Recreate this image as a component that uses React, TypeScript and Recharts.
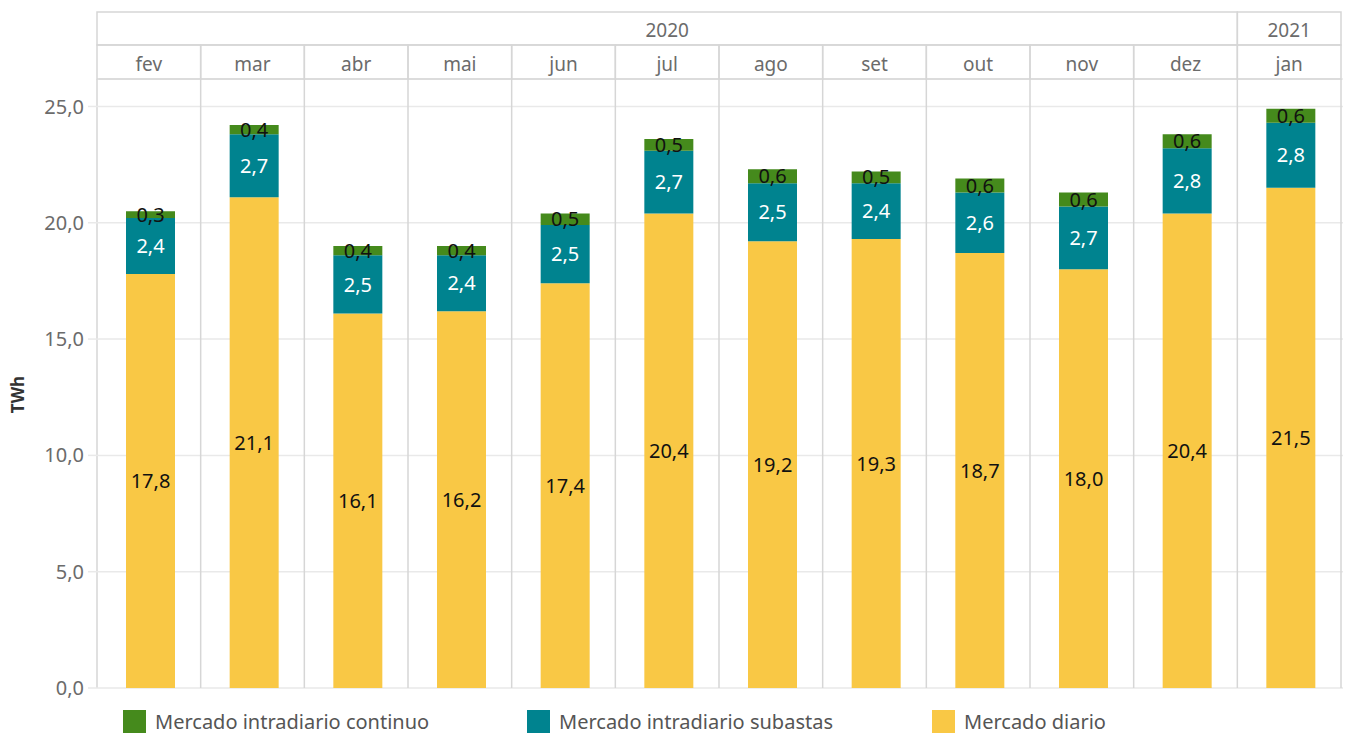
import React from 'react';
import { BarChart, Bar, XAxis, YAxis, CartesianGrid, Legend, LabelList } from 'recharts';

const months = ['fev', 'mar', 'abr', 'mai', 'jun', 'jul', 'ago', 'set', 'out', 'nov', 'dez', 'jan'];
const years = ['2020', '2020', '2020', '2020', '2020', '2020', '2020', '2020', '2020', '2020', '2020', '2021'];
const diario = [17.8, 21.1, 16.1, 16.2, 17.4, 20.4, 19.2, 19.3, 18.7, 18.0, 20.4, 21.5];
const subastas = [2.4, 2.7, 2.5, 2.4, 2.5, 2.7, 2.5, 2.4, 2.6, 2.7, 2.8, 2.8];
const continuo = [0.3, 0.4, 0.4, 0.4, 0.5, 0.5, 0.6, 0.5, 0.6, 0.6, 0.6, 0.6];
const yTicks = [0, 5, 10, 15, 20, 25];

const data = months.map((m, i) => ({
    month: m,
    year: years[i],
    diario: diario[i],
    subastas: subastas[i],
    continuo: continuo[i],
}));

const W = 1351;
const H = 733;
const PLOT_LEFT = 97;
const PLOT_RIGHT = 1341;
// tableau puts the bars a little right of the band centre
const BAR_SHIFT = 2;
const COL_W = (PLOT_RIGHT - PLOT_LEFT) / months.length;
const HEAD_TOP = 12;
const HEAD_MID = 45;
const HEAD_BOTTOM = 79;

const BORDER = '#d6d6d6';
const GRID = '#e9e9e9';
const TEXT_GREY = '#6b6b6b';
const FONT = '"Noto Sans", sans-serif';

const GREEN = '#458a1c';
const TEAL = '#00838f';
const YELLOW = '#f9c845';

const fmt = (v: any) => Number(v).toFixed(1).replace('.', ',');

const MonthTick = (props: any) => {
    const { index, payload } = props;
    const left = PLOT_LEFT + index * COL_W;
    return (
        <g>
            <rect x={left} y={HEAD_MID} width={COL_W} height={HEAD_BOTTOM - HEAD_MID}
                fill="none" stroke={BORDER} strokeWidth={1.5} />
            <text x={left + COL_W / 2} y={71} textAnchor="middle" fill={TEXT_GREY} fontSize={19} fontFamily={FONT}>
                {payload.value}
            </text>
        </g>
    );
};

const YearTick = (props: any) => {
    const { index } = props;
    if (index > 0 && years[index - 1] === years[index]) return <g />;
    let n = 0;
    while (index + n < years.length && years[index + n] === years[index]) n++;
    const left = PLOT_LEFT + index * COL_W;
    return (
        <g>
            <rect x={left} y={HEAD_TOP} width={COL_W * n} height={HEAD_MID - HEAD_TOP}
                fill="none" stroke={BORDER} strokeWidth={1.5} />
            <text x={left + (COL_W * n) / 2} y={37} textAnchor="middle" fill={TEXT_GREY} fontSize={19} fontFamily={FONT}>
                {years[index]}
            </text>
        </g>
    );
};

const legendItems = [
    { name: 'Mercado intradiario continuo', color: GREEN, left: 123 },
    { name: 'Mercado intradiario subastas', color: TEAL, left: 527 },
    { name: 'Mercado diario', color: YELLOW, left: 932 },
];

const LegendContent = () => (
    <div style={{ position: 'relative', width: W, height: 45 }}>
        {legendItems.map((it) => (
            <div key={it.name} style={{ position: 'absolute', left: it.left, top: 22, display: 'flex', alignItems: 'center' }}>
                <div style={{ width: 23, height: 23, background: it.color }} />
                <span style={{ marginLeft: 9, fontFamily: FONT, fontSize: 20, color: '#555', lineHeight: '23px' }}>{it.name}</span>
            </div>
        ))}
    </div>
);

const App: React.FC = () => {
    return (
        <div style={{ position: 'absolute', left: 0, top: 0, width: W, height: H, background: '#fff' }}>
            <BarChart width={W} height={H} data={data} barSize={49}
                margin={{ top: HEAD_TOP, right: W - PLOT_RIGHT - BAR_SHIFT, left: BAR_SHIFT, bottom: 0 }}>
                <CartesianGrid vertical={false} stroke={GRID} strokeWidth={1.5} />
                <CartesianGrid horizontal={false} stroke={BORDER} strokeWidth={1.5}
                    verticalCoordinatesGenerator={() =>
                        Array.from({ length: months.length + 1 }, (_, i) => PLOT_LEFT + i * COL_W)} />
                <XAxis xAxisId={0} dataKey="month" orientation="bottom" hide />
                <XAxis xAxisId="m" dataKey="month" orientation="top" height={HEAD_BOTTOM - HEAD_MID}
                    axisLine={false} tickLine={false} tickSize={0} tickMargin={0} tick={<MonthTick />} interval={0} />
                <XAxis xAxisId="y" dataKey="month" orientation="top" height={HEAD_MID - HEAD_TOP}
                    axisLine={false} tickLine={false} tickSize={0} tickMargin={0} tick={<YearTick />} interval={0} />
                <YAxis width={PLOT_LEFT} domain={[0, 26.18]} ticks={yTicks} allowDataOverflow
                    axisLine={false} tickLine={{ stroke: GRID, strokeWidth: 1.5 }} tickSize={11} tickMargin={4}
                    tickFormatter={fmt}
                    tick={{ fill: TEXT_GREY, fontSize: 20, fontFamily: FONT }}
                    label={{
                        content: (p: any) => {
                            const vb = p.viewBox || { y: 79, height: 609 };
                            const cy = vb.y + vb.height / 2 + 11;
                            return (
                                <text x={17} y={cy} transform={`rotate(-90, 17, ${cy})`} textAnchor="middle"
                                    dominantBaseline="central" fontFamily={FONT} fontSize={17} fontWeight="bold" fill="#333">
                                    TWh
                                </text>
                            );
                        },
                    }} />
                <Legend verticalAlign="bottom" height={45} content={<LegendContent />}
                    wrapperStyle={{ left: 0, bottom: 0, width: W, height: 45 }} />
                <Bar dataKey="diario" stackId="a" fill={YELLOW} isAnimationActive={false}>
                    <LabelList dataKey="diario" position="center" formatter={fmt}
                        fill="#111" fontSize={20} fontFamily={FONT} />
                </Bar>
                <Bar dataKey="subastas" stackId="a" fill={TEAL} isAnimationActive={false}>
                    <LabelList dataKey="subastas" position="center" formatter={fmt}
                        fill="#fff" fontSize={20} fontFamily={FONT} />
                </Bar>
                <Bar dataKey="continuo" stackId="a" fill={GREEN} isAnimationActive={false}>
                    <LabelList dataKey="continuo" position="center" formatter={fmt}
                        fill="#111" fontSize={20} fontFamily={FONT} />
                </Bar>
            </BarChart>
        </div>
    );
};

export default App;
